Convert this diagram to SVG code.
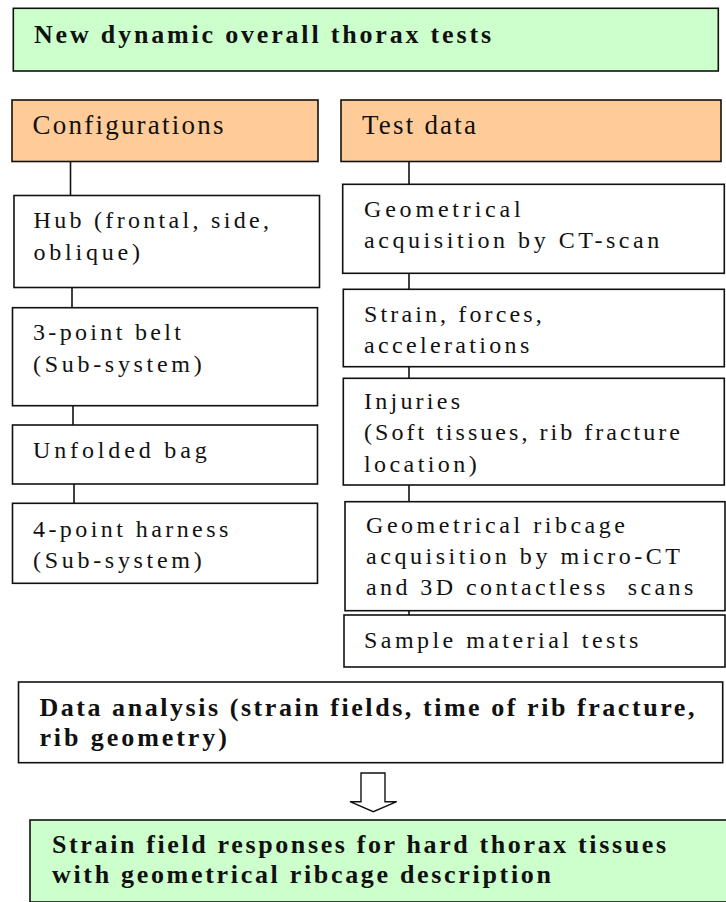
<svg xmlns="http://www.w3.org/2000/svg" width="726" height="902" viewBox="0 0 726 902">
<style>
rect{stroke:#111;stroke-width:1.6}
.g{fill:#CCFFCC}
.o{fill:#FFCC99}
.w{fill:#FFFFFF}
text{font-family:"Liberation Serif","Times New Roman",serif;fill:#111}
.b{font-weight:bold;font-size:26px}
.h{font-size:27px}
.t{font-size:24px}
#connectors line{stroke:#111;stroke-width:1.6}
#connectors polygon{fill:#fff;stroke:#111;stroke-width:1.4}
</style>
<rect width="726" height="902" fill="#fff" style="stroke:none"/>
<g id="connectors">
<line x1="70.5" y1="161.5" x2="70.5" y2="195.5"/>
<line x1="72" y1="287.5" x2="72" y2="307.7"/>
<line x1="73" y1="405.7" x2="73" y2="425"/>
<line x1="74" y1="484" x2="74" y2="503.3"/>
<line x1="409" y1="161.5" x2="409" y2="184.3"/>
<line x1="409" y1="273.3" x2="409" y2="289.3"/>
<line x1="409" y1="366.7" x2="409" y2="378.3"/>
<line x1="409" y1="485" x2="409" y2="501.7"/>
<line x1="409" y1="610.7" x2="409" y2="615"/>
<polygon points="361,773 385,773 385,801.7 396.7,801.7 373.3,811.7 350,801.7 361,801.7"/>
</g>
<g id="n-title">
<rect class="g" x="13.3" y="8.3" width="705" height="62.7"/>
<text class="b" x="34" y="43" textLength="457" lengthAdjust="spacing">New dynamic overall thorax tests</text>
</g>
<g id="n-config">
<rect class="o" x="12" y="100" width="306" height="61.5"/>
<text class="h" x="32.5" y="134" textLength="191" lengthAdjust="spacing">Configurations</text>
</g>
<g id="n-testdata">
<rect class="o" x="341" y="100" width="380" height="61.5"/>
<text class="h" x="362" y="134.3" textLength="114" lengthAdjust="spacing">Test data</text>
</g>
<g id="n-hub">
<rect class="w" x="14" y="195.5" width="305.5" height="92"/>
<text class="t" x="33.5" y="228.3" textLength="235.5" lengthAdjust="spacing">Hub (frontal, side,</text>
<text class="t" x="33.5" y="260" textLength="106.5" lengthAdjust="spacing">oblique)</text>
</g>
<g id="n-belt3">
<rect class="w" x="12.5" y="307.7" width="305" height="98"/>
<text class="t" x="33" y="340" textLength="148" lengthAdjust="spacing">3-point belt</text>
<text class="t" x="33" y="371.7" textLength="168.7" lengthAdjust="spacing">(Sub-system)</text>
</g>
<g id="n-bag">
<rect class="w" x="12.5" y="425" width="305" height="59"/>
<text class="t" x="33" y="458.3" textLength="173.7" lengthAdjust="spacing">Unfolded bag</text>
</g>
<g id="n-harness4">
<rect class="w" x="12.5" y="503.3" width="305" height="80"/>
<text class="t" x="33" y="536.7" textLength="195.3" lengthAdjust="spacing">4-point harness</text>
<text class="t" x="33" y="568.3" textLength="168.7" lengthAdjust="spacing">(Sub-system)</text>
</g>
<g id="n-ctscan">
<rect class="w" x="342.7" y="184.3" width="381.6" height="89"/>
<text class="t" x="364" y="216.7" textLength="156.7" lengthAdjust="spacing">Geometrical</text>
<text class="t" x="364" y="248.3" textLength="295.3" lengthAdjust="spacing">acquisition by CT-scan</text>
</g>
<g id="n-strain">
<rect class="w" x="343.3" y="289.3" width="381" height="77.4"/>
<text class="t" x="364" y="321.7" textLength="177.7" lengthAdjust="spacing">Strain, forces,</text>
<text class="t" x="364" y="352.7" textLength="165.3" lengthAdjust="spacing">accelerations</text>
</g>
<g id="n-injuries">
<rect class="w" x="343.3" y="378.3" width="381" height="106.7"/>
<text class="t" x="364" y="409.3" textLength="96" lengthAdjust="spacing">Injuries</text>
<text class="t" x="364" y="440" textLength="316" lengthAdjust="spacing">(Soft tissues, rib fracture</text>
<text class="t" x="364" y="471.7" textLength="112.7" lengthAdjust="spacing">location)</text>
</g>
<g id="n-ribcage">
<rect class="w" x="345" y="501.7" width="380" height="109"/>
<text class="t" x="366" y="533.3" textLength="259" lengthAdjust="spacing">Geometrical ribcage</text>
<text class="t" x="366" y="564" textLength="314" lengthAdjust="spacing">acquisition by micro-CT</text>
<text class="t" x="366" y="595" textLength="327.3" lengthAdjust="spacing" xml:space="preserve">and 3D contactless  scans</text>
</g>
<g id="n-sample">
<rect class="w" x="344" y="615" width="381" height="52"/>
<text class="t" x="364" y="648.3" textLength="274.3" lengthAdjust="spacing">Sample material tests</text>
</g>
<g id="n-analysis">
<rect class="w" x="18.5" y="682" width="704.2" height="80.7"/>
<text class="b" x="39.4" y="715.7" textLength="655" lengthAdjust="spacing">Data analysis (strain fields, time of rib fracture,</text>
<text class="b" x="39.4" y="745.5" textLength="187.5" lengthAdjust="spacing">rib geometry)</text>
</g>
<g id="n-result">
<rect class="g" x="30" y="820" width="700" height="82"/>
<text class="b" x="52" y="853.3" textLength="614" lengthAdjust="spacing">Strain field responses for hard thorax tissues</text>
<text class="b" x="52" y="883" textLength="499" lengthAdjust="spacing">with geometrical ribcage description</text>
</g>
</svg>
